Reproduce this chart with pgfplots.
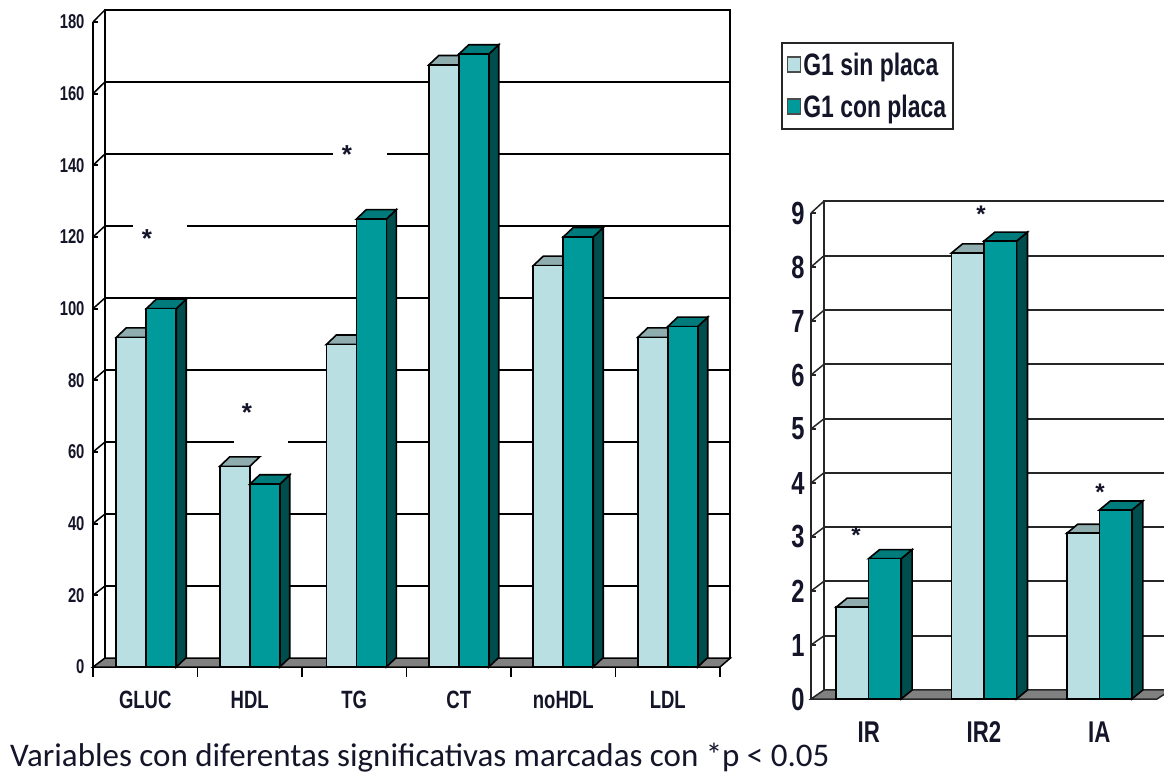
\documentclass[border=0pt]{standalone}
\usepackage{pgfplots}
\usepackage{pgfplotstable}
\usepackage{fontspec}
\pgfplotsset{compat=1.18}
\setmainfont{Liberation Sans}
\newfontfamily\nb[FakeStretch=0.74]{Liberation Sans}
\newfontfamily\calib{Carlito}
\definecolor{lt}{HTML}{B9DFE2}
\definecolor{ltt}{HTML}{8FADAF}
\definecolor{tl}{HTML}{009A9A}
\definecolor{tlt}{HTML}{007B7B}
\definecolor{tls}{HTML}{004D4D}
\definecolor{ink}{HTML}{15152A}
\pgfplotstableread{
x a b
0.51 92 100
1.5 56 51
2.52 90 125
3.5 168 171
4.5 112 120
5.5 92 95
}\dataleft
\pgfplotstableread{
x a b
0.5 1.7 2.6
1.5 8.26 8.48
2.5 3.07 3.5
}\dataright
\newcommand\gl[4][black]{\addplot[#1,line width=2pt,forget plot] coordinates {(#2,#4)(#3,#4)};}
\newcommand\con[5][black]{\addplot[#1,line width=1.5pt,forget plot] coordinates {(#2,#4)(#3,#5)};}
\newcommand\barsA[2]{% centre, value, light bar top
 \pgfmathsetmacro\xa{#1-\bw}\pgfmathsetmacro\xb{#1-\bw+\dx}\pgfmathsetmacro\xd{#1+\dx}\pgfmathsetmacro\yt{#2+\dy}%
 \addplot[fill=ltt,draw=black,line width=1.6pt,forget plot] coordinates {(\xa,#2)(\xb,\yt)(\xd,\yt)(#1,#2)} -- cycle;%
}
\newcommand\barsB[2]{% centre, value, dark bar top and side
 \pgfmathsetmacro\xb{#1+\dx}\pgfmathsetmacro\xd{#1+\bw}\pgfmathsetmacro\xe{#1+\bw+\dx}\pgfmathsetmacro\yt{#2+\dy}%
 \pgfmathsetmacro\yf{\dy}%
 \addplot[fill=tls,draw=black,line width=1.6pt,forget plot] coordinates {(\xd,0)(\xe,\yf)(\xe,\yt)(\xd,#2)} -- cycle;%
 \addplot[fill=tlt,draw=black,line width=1.6pt,forget plot] coordinates {(#1,#2)(\xb,\yt)(\xe,\yt)(\xd,#2)} -- cycle;%
}
\pgfplotsset{
 common/.style={
  scale only axis, clip=false, axis line style={-,black,line width=2pt},
  axis x line*=bottom, axis y line*=left,
  tick style={black,line width=1.7pt},
  /pgf/number format/assume math mode=true,
  xmin=0,
 },
 frontA/.style={ybar,bar shift=#1,bar width=30pt,draw=black,line width=1.6pt,forget plot},
 frontB/.style={ybar,bar shift=#1,bar width=32.5pt,draw=black,line width=1.6pt,forget plot},
}
\begin{document}
\begin{tikzpicture}[x=1pt,y=1pt]
\clip (0,0) rectangle (1164,774);
\fill[white] (0,0) rectangle (1164,774);
%%%%% LEFT
\begin{axis}[common, at={(93pt,107pt)}, anchor=south west,
  width=627pt, height=645pt, xmax=6, ymin=0, ymax=180,
  ytick={0,20,...,180},
  xtick={0,1,...,6}, xticklabels={},
  major tick length=5pt,
  extra x ticks={0.5,1.5,2.5,3.5,4.5,5.5},
  extra x tick labels={GLUC,HDL,TG,CT,noHDL,LDL},
  extra x tick style={major tick length=0pt,tick label style={font=\nb\bfseries\fontsize{25}{25}\selectfont,color=ink,yshift=-21pt}},
  yticklabel style={font=\nb\bfseries\fontsize{20}{20}\selectfont,color=ink,xshift=-5pt},
  legend style={at={(1.097,0.969)},anchor=north west,draw=black!85,line width=2pt,
    font=\nb\bfseries\fontsize{31}{33}\selectfont,text=ink,inner xsep=5pt,inner ysep=8pt,row sep=14pt,
    /tikz/column 2/.style={column sep=6pt}},
  legend cell align=left,
]
\addlegendimage{area legend,legend image code/.code={\draw[fill=lt,draw=black!70,line width=1.5pt] (0pt,-7pt) rectangle (13pt,8pt);}}
\addlegendentry{G1 sin placa}
\addlegendimage{area legend,legend image code/.code={\draw[fill=tl,draw=black!70,line width=1.5pt] (0pt,-7pt) rectangle (13pt,8pt);}}
\addlegendentry{G1 con placa}
% longer category ticks
\con{0}{0}{0}{-2.8}
\con{1}{1}{0}{-2.8}
\con{2}{2}{0}{-2.8}
\con{3}{3}{0}{-2.8}
\con{4}{4}{0}{-2.8}
\con{5}{5}{0}{-2.8}
\con{6}{6}{0}{-2.8}
% floor and walls
\addplot[fill=gray,draw=black,line width=1.5pt,forget plot] coordinates {(0,0)(0.115,2.5)(6.1,2.5)(6,0)} -- cycle;
\addplot[black,line width=2pt,forget plot] coordinates {(0.115,2.5)(0.115,183.4)(6.1,183.4)(6.1,2.5)};
\gl{0.115}{6.1}{22.6}
\gl{0.115}{6.1}{42.7}
\gl{0.115}{1.349}{62.8}
\gl{1.866}{6.1}{62.8}
\gl{0.115}{6.1}{82.9}
\gl{0.115}{6.1}{103}
\gl{0.115}{0.383}{123.1}
\gl{0.9}{6.1}{123.1}
\gl{0.115}{2.297}{143.2}
\gl{2.813}{6.1}{143.2}
\gl{0.115}{6.1}{163.3}
\con{0}{0.115}{20}{22.6}
\con{0}{0.115}{40}{42.7}
\con{0}{0.115}{60}{62.8}
\con{0}{0.115}{80}{82.9}
\con{0}{0.115}{100}{103}
\con{0}{0.115}{120}{123.1}
\con{0}{0.115}{140}{143.2}
\con{0}{0.115}{160}{163.3}
\con{0}{0.115}{180}{183.4}
% bars
\def\bw{0.287}\def\dx{0.0957}\def\dy{2.65}
\barsA{0.51}{92}\barsA{1.5}{56}\barsA{2.52}{90}\barsA{3.5}{168}\barsA{4.5}{112}\barsA{5.5}{92}
\addplot[frontA=-15pt,fill=lt] table[x=x,y=a] {\dataleft};
\barsB{0.51}{100}\barsB{1.5}{51}\barsB{2.52}{125}\barsB{3.5}{171}\barsB{4.5}{120}\barsB{5.5}{95}
\addplot[frontA=15pt,fill=tl] table[x=x,y=b] {\dataleft};
\node[font=\bfseries\fontsize{26}{26}\selectfont,text=ink] at (axis cs:2.43,142.9) {*};
\node[font=\bfseries\fontsize{26}{26}\selectfont,text=ink] at (axis cs:0.517,119.5) {*};
\node[font=\bfseries\fontsize{26}{26}\selectfont,text=ink] at (axis cs:1.474,71) {*};
\end{axis}
%%%%% RIGHT
\begin{axis}[common, at={(811pt,75pt)}, anchor=south west,
  width=346pt, height=486pt, xmax=3, ymin=0, ymax=9,
  ytick={0,1,...,9},
  xtick={0,1,2,3}, xticklabels={},
  major tick length=5pt,
  axis line style={-,black!85,line width=1.7pt},
  tick style={black!85,line width=1.4pt},
  extra x ticks={0.5,1.5,2.5},
  extra x tick labels={IR,IR2,IA},
  extra x tick style={major tick length=0pt,tick label style={font=\nb\bfseries\fontsize{30}{30}\selectfont,color=ink,yshift=-19pt}},
  yticklabel style={font=\nb\bfseries\fontsize{32}{32}\selectfont,color=ink,xshift=-3pt},
]
\addplot[fill=gray,draw=black!85,line width=1.5pt,forget plot] coordinates {(0,0)(0.113,0.167)(3.12,0.167)(3,0)} -- cycle;
\addplot[black!85,line width=1.8pt,forget plot] coordinates {(0.113,0.167)(0.113,9.22)(3.2,9.22)};
\gl[black!85]{0.113}{3.2}{1.17}
\gl[black!85]{0.113}{3.2}{2.18}
\gl[black!85]{0.113}{3.2}{3.18}
\gl[black!85]{0.113}{3.2}{4.19}
\gl[black!85]{0.113}{3.2}{5.19}
\gl[black!85]{0.113}{3.2}{6.2}
\gl[black!85]{0.113}{3.2}{7.2}
\gl[black!85]{0.113}{3.2}{8.21}
\con[black!85]{0}{0.113}{1}{1.17}
\con[black!85]{0}{0.113}{2}{2.18}
\con[black!85]{0}{0.113}{3}{3.18}
\con[black!85]{0}{0.113}{4}{4.19}
\con[black!85]{0}{0.113}{5}{5.19}
\con[black!85]{0}{0.113}{6}{6.2}
\con[black!85]{0}{0.113}{7}{7.2}
\con[black!85]{0}{0.113}{8}{8.21}
\con[black!85]{0}{0.113}{9}{9.22}
\def\bw{0.282}\def\dx{0.095}\def\dy{0.167}
\barsA{0.5}{1.7}\barsA{1.5}{8.26}\barsA{2.5}{3.07}
\addplot[frontB=-16.25pt,fill=lt] table[x=x,y=a] {\dataright};
\barsB{0.5}{2.6}\barsB{1.5}{8.48}\barsB{2.5}{3.5}
\addplot[frontB=16.25pt,fill=tl] table[x=x,y=b] {\dataright};
\node[font=\bfseries\fontsize{24}{24}\selectfont,text=ink] at (axis cs:1.474,8.98) {*};
\node[font=\bfseries\fontsize{24}{24}\selectfont,text=ink] at (axis cs:0.39,3.04) {*};
\node[font=\bfseries\fontsize{24}{24}\selectfont,text=ink] at (axis cs:2.507,3.83) {*};
\end{axis}
\node[anchor=base west,inner sep=0pt,text=ink,font=\calib\fontsize{33}{33}\selectfont] at (10,8) {Variables con diferentas significativas marcadas con *p < 0.05};
\end{tikzpicture}
\end{document}
